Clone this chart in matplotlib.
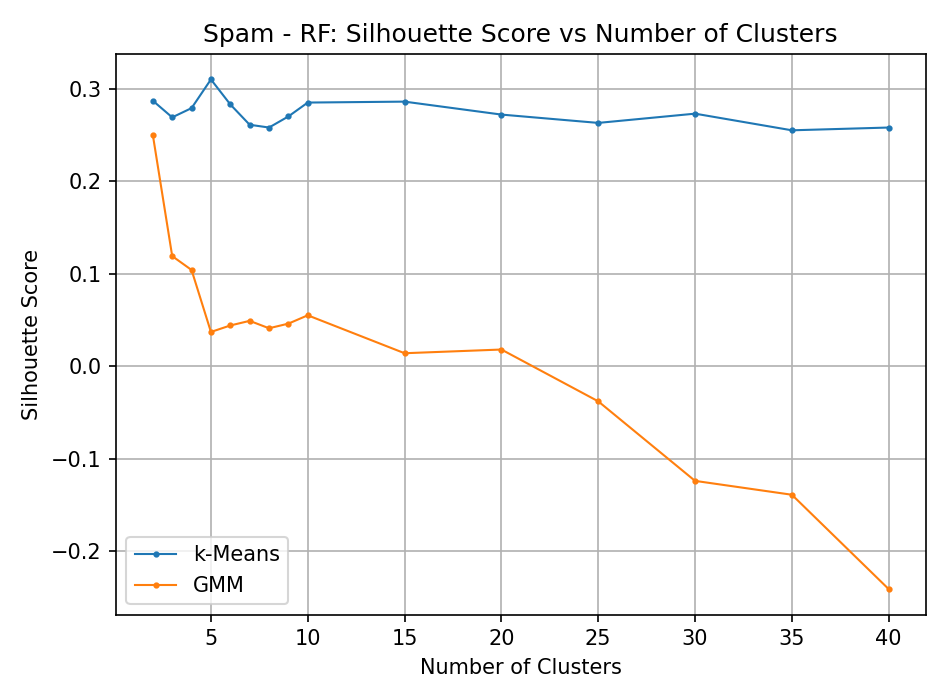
import matplotlib
matplotlib.use("Agg")
import matplotlib.pyplot as plt

clusters = [2, 3, 4, 5, 6, 7, 8, 9, 10, 15, 20, 25, 30, 35, 40]
kmeans_scores = [0.287, 0.269, 0.279, 0.310, 0.283, 0.261, 0.258, 0.270, 0.285,
                 0.286, 0.272, 0.263, 0.273, 0.255, 0.258]
gmm_scores = [0.250, 0.119, 0.104, 0.037, 0.044, 0.049, 0.041, 0.046, 0.055,
              0.014, 0.018, -0.038, -0.124, -0.139, -0.241]

fig, ax = plt.subplots(figsize=(6.32, 4.667), dpi=150)
ax.plot(clusters, kmeans_scores, marker='o', markersize=2, linewidth=1, label='k-Means')
ax.plot(clusters, gmm_scores, marker='o', markersize=2, linewidth=1, label='GMM')
ax.set_xticks([5, 10, 15, 20, 25, 30, 35, 40])
ax.set_xlabel("Number of Clusters")
ax.set_ylabel("Silhouette Score")
ax.set_title("Spam - RF: Silhouette Score vs Number of Clusters")
ax.grid(True)
ax.legend(loc='lower left')
fig.tight_layout()
fig.savefig("out.png")
